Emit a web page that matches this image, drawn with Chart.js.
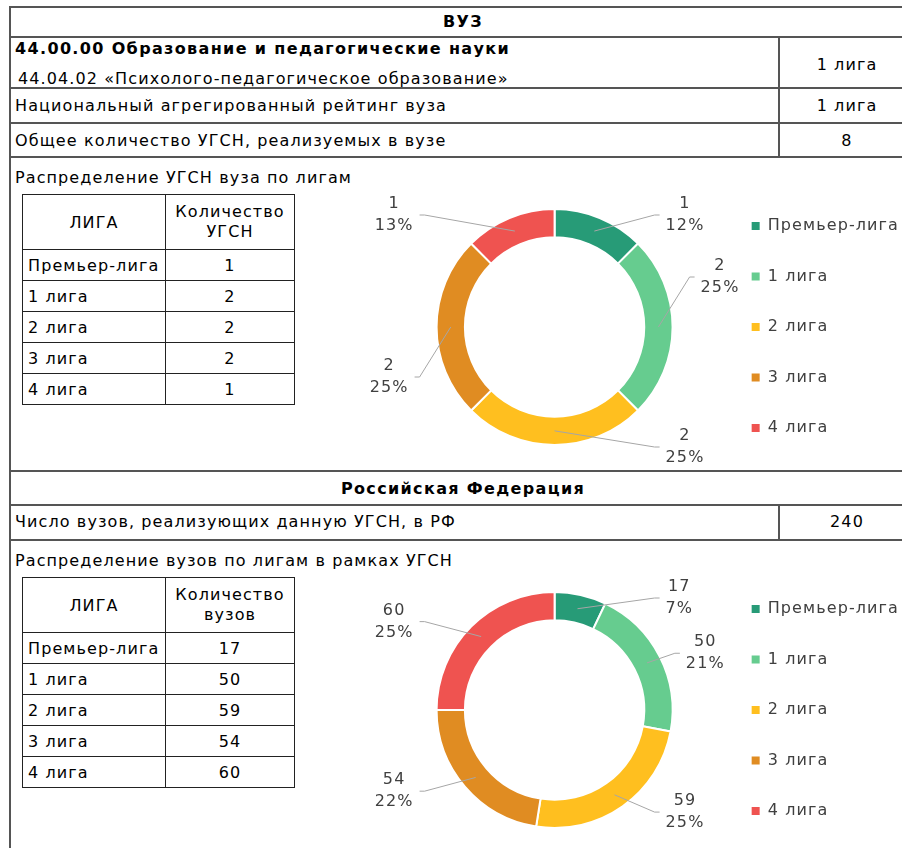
<!DOCTYPE html>
<html>
<head>
<meta charset="utf-8">
<script src="https://cdn.jsdelivr.net/npm/chart.js@4/dist/chart.umd.min.js"></script>
<style>
  body { margin: 0; background: #fff; font-family: "DejaVu Sans", sans-serif; font-size: 16px; color: #000; overflow: hidden; letter-spacing: 1.1px; }
  .h { position: absolute; height: 2px; background: #555; }
  .v { position: absolute; width: 2px; background: #555; }
  .t { position: absolute; line-height: 20px; white-space: nowrap; }
  .c { text-align: center; }
  .b { font-weight: bold; letter-spacing: 1.35px; }
  table.lg { position: absolute; border-collapse: collapse; font-size: 16px; }
  table.lg td { border: 1px solid #222; padding: 0 5px; }
  canvas { position: absolute; }
</style>
</head>
<body>
<div id="page"></div>
<script>
// ---- data ----
const leagues = ["Премьер-лига", "1 лига", "2 лига", "3 лига", "4 лига"];
const ugsnByLeague = [1, 2, 2, 2, 1];
const vuzByLeague = [17, 50, 59, 54, 60];
const programmeTitle = "44.00.00 Образование и педагогические науки";
const programmeName = "44.04.02 «Психолого-педагогическое образование»";
const programmeLeague = "1 лига";
const ratingLeague = "1 лига";
const ugsnTotal = 8;
const vuzTotal = 240;

const leagueColors = ["#279b77", "#66cc8f", "#ffbf1f", "#e08c22", "#ef5350"];

const page = document.getElementById("page");

function line(cls, x, y, len) {
    const d = document.createElement("div");
    d.className = cls;
    d.style.left = x + "px";
    d.style.top = y + "px";
    if (cls === "h") d.style.width = len + "px"; else d.style.height = len + "px";
    page.appendChild(d);
}
function text(str, x, y, extra, w) {
    const s = document.createElement("div");
    s.className = "t " + (extra || "");
    s.textContent = str;
    s.style.left = x + "px";
    s.style.top = (y - 10) + "px";
    if (w) s.style.width = w + "px";
    page.appendChild(s);
}

// table frame
const right = 920;
[6, 36, 87, 122, 156, 470, 504, 539].forEach(y => line("h", 9, y, right));
line("v", 9, 6, 900);
line("v", 778, 36, 121);
line("v", 778, 504, 36);

text("ВУЗ", 10, 22, "c b", 906);
text(programmeTitle, 15, 49, "b");
text(" " + programmeName, 18, 79);
text(programmeLeague, 779, 65, "c", 136);
text("Национальный агрегированный рейтинг вуза", 15, 106);
text(ratingLeague, 779, 106, "c", 136);
text("Общее количество УГСН, реализуемых в вузе", 15, 141);
text(String(ugsnTotal), 779, 141, "c", 136);
text("Российская Федерация", 10, 489, "c b", 906);
text("Число вузов, реализующих данную УГСН, в РФ", 15, 522);
text(String(vuzTotal), 779, 522, "c", 136);

// percentages that add up to 100 (largest remainder)
function percents(values) {
    const total = values.reduce((a, b) => a + b, 0);
    const raw = values.map(v => v * 100 / total);
    const out = raw.map(Math.floor);
    let left = 100 - out.reduce((a, b) => a + b, 0);
    const order = raw.map((r, i) => [r - Math.floor(r), i])
        .sort((a, b) => (b[0] - a[0]) || (b[1] - a[1]));
    for (let k = 0; k < left; k++) out[order[k][1]]++;
    return out;
}

const outLabels = {
    id: "outLabels",
    beforeInit(chart) {
        chart.ctx.letterSpacing = "1.1px";
    },
    afterDatasetsDraw(chart) {
        const ctx = chart.ctx;
        const values = chart.data.datasets[0].data;
        const pct = percents(values);
        const meta = chart.getDatasetMeta(0);
        ctx.save();
        ctx.font = '16px "DejaVu Sans"';
        ctx.textAlign = "center";
        ctx.textBaseline = "middle";
        meta.data.forEach((arc, i) => {
            const p = arc.getProps(["x", "y", "startAngle", "endAngle", "innerRadius", "outerRadius"], true);
            const mid = (p.startAngle + p.endAngle) / 2;
            let a = mid + Math.PI / 2;
            a = ((a % (2 * Math.PI)) + 2 * Math.PI) % (2 * Math.PI);
            const onRight = a <= Math.PI + 1e-6;
            const rm = (p.innerRadius + p.outerRadius) / 2;
            const sx = p.x + Math.cos(mid) * rm;
            const sy = p.y + Math.sin(mid) * rm;
            let dx = Math.sin(a) * 135;
            let dy = -Math.cos(a) * 125;
            dy = Math.max(-112, Math.min(120, dy));
            // keep labels off the 3 and 9 o'clock positions
            if (Math.abs(dy) < 50) dy = onRight ? -50 : 50;
            dx = onRight ? Math.max(dx, 100) : Math.min(dx, -130);
            const ex = p.x + dx, ey = p.y + dy;
            const hx = ex + (onRight ? 5 : -5);
            ctx.strokeStyle = "#a6a6a6";
            ctx.lineWidth = 1;
            ctx.beginPath();
            ctx.moveTo(sx, sy);
            ctx.lineTo(ex, ey);
            ctx.lineTo(hx, ey);
            ctx.stroke();
            const l1 = String(values[i]);
            const l2 = pct[i] + "%";
            const w = Math.max(ctx.measureText(l1).width, ctx.measureText(l2).width);
            const cx = onRight ? hx + 6 + w / 2 : hx - 6 - w / 2;
            ctx.fillStyle = "#404040";
            ctx.fillText(l1, cx, ey - 11);
            ctx.fillText(l2, cx, ey + 11);
        });
        ctx.restore();
    }
};

function section(top, title, headCol2, values) {
    text(title, 15, top + 21);
    const tb = document.createElement("table");
    tb.className = "lg";
    tb.style.left = "22px";
    tb.style.top = (top + 37) + "px";
    let html = '<tr style="height:55px"><td class="c" style="width:132px">ЛИГА</td>' +
        '<td class="c" style="width:118px;line-height:20px">' + headCol2 + '</td></tr>';
    leagues.forEach((lg, i) => {
        html += '<tr style="height:31px"><td>' + lg + '</td><td class="c">' + values[i] + '</td></tr>';
    });
    tb.innerHTML = html;
    page.appendChild(tb);

    const cv = document.createElement("canvas");
    cv.width = 570;
    cv.height = 290;
    cv.style.left = "340px";
    cv.style.top = (top + 25) + "px";
    page.appendChild(cv);

    new Chart(cv, {
        type: "doughnut",
        data: {
            labels: leagues,
            datasets: [{
                data: values,
                backgroundColor: leagueColors,
                borderColor: "#fff",
                borderWidth: 2,
                radius: 118,
                cutout: "76%",
            }],
        },
        options: {
            responsive: false,
            animation: false,
            layout: { padding: { left: 52, right: 1 } },
            plugins: {
                tooltip: { enabled: false },
                legend: {
                    position: "right",
                    labels: {
                        boxWidth: 8,
                        boxHeight: 8,
                        padding: 34.5,
                        color: "#404040",
                        font: { family: "DejaVu Sans", size: 16 },
                        generateLabels(chart) {
                            const items = Chart.overrides.doughnut.plugins.legend.labels.generateLabels(chart);
                            items.forEach(it => { it.lineWidth = 0; it.strokeStyle = it.fillStyle; });
                            return items;
                        },
                    },
                },
            },
        },
        plugins: [outLabels],
    });
}

section(157, "Распределение УГСН вуза по лигам", "Количество<br>УГСН", ugsnByLeague);
section(540, "Распределение вузов по лигам в рамках УГСН", "Количество<br>вузов", vuzByLeague);
</script>
</body>
</html>
